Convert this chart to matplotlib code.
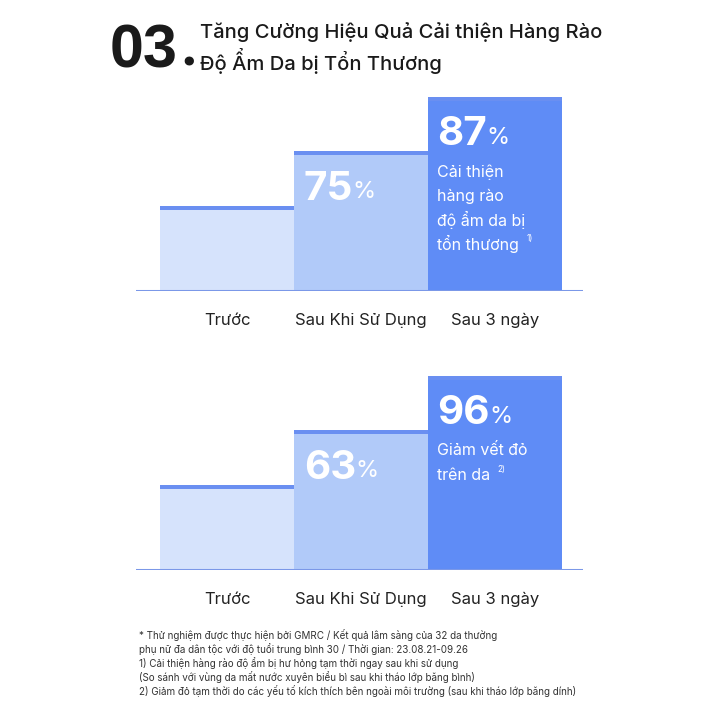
import matplotlib
matplotlib.use("Agg")
import matplotlib.pyplot as plt

plt.rcParams['font.family'] = ['Inter', 'Noto Sans', 'DejaVu Sans']

# Data
categories = ["Trước", "Sau Khi Sử Dụng", "Sau 3 ngày"]
bar_heights = [44, 72, 100]          # relative bar heights
top_values = ["75", "87"]            # value labels on bars 2 and 3 (top chart)
bottom_values = ["63", "96"]         # value labels on bars 2 and 3 (bottom chart)
top_note = ["Cải thiện", "hàng rào", "độ ẩm da bị", "tổn thương"]
top_note_ref = "1)"
bottom_note = ["Giảm vết đỏ", "trên da"]
bottom_note_ref = "2)"

title_num = "03"
title_lines = "Tăng Cường Hiệu Quả Cải thiện Hàng Rào\nĐộ Ẩm Da bị Tổn Thương"
footnotes = [
    "* Thử nghiệm được thực hiện bởi GMRC / Kết quả lâm sàng của 32 da thường",
    "phụ nữ đa dân tộc với độ tuổi trung bình 30 / Thời gian: 23.08.21-09.26",
    "1) Cải thiện hàng rào độ ẩm bị hư hỏng tạm thời ngay sau khi sử dụng",
    "(So sánh với vùng da mất nước xuyên biểu bì sau khi tháo lớp băng bình)",
    "2) Giảm đỏ tạm thời do các yếu tố kích thích bên ngoài môi trường (sau khi tháo lớp băng dính)",
]

fill_colors = ["#d6e3fc", "#b1caf9", "#5f8cf6"]
cap_color = "#6a8ff1"
base_color = "#7b98e8"


def draw_chart(ax, values, note, note_ref):
    x = list(range(len(categories)))
    ax.bar(x, bar_heights, width=1.0, color=fill_colors, edgecolor="none", zorder=1)
    # darker cap on top of each bar
    ax.bar(x, [2.0] * 3, bottom=[h - 2.0 for h in bar_heights], width=1.0,
           color=cap_color, edgecolor="none", zorder=2)
    ax.axhline(0, color=base_color, lw=2.2, zorder=3)

    ax.set_xlim(-0.68, 2.66)
    ax.set_ylim(0, 103.6)
    ax.set_xticks(x)
    ax.set_xticklabels(categories, fontsize=12, color="#222222")
    ax.tick_params(axis="x", length=0, pad=16)
    ax.set_yticks([])
    for s in ax.spines.values():
        s.set_visible(False)

    # value labels
    for i, v in zip([1, 2], values):
        t = ax.annotate(v, xy=(i - 0.5, bar_heights[i]), xytext=(7, -14),
                        textcoords="offset points", ha="left", va="top",
                        fontsize=29, fontweight="bold", color="white", zorder=4)
        ax.annotate("%", xy=(1, 0), xycoords=t, xytext=(-0.5, 3.5),
                    textcoords="offset points", ha="left", va="bottom",
                    fontsize=17, color="white", zorder=4)

    # description, one line at a time so the footnote mark follows the last line
    last = None
    for k, line in enumerate(note):
        last = ax.annotate(line, xy=(1.5, bar_heights[2]), xytext=(7, -54 - 17.3 * k),
                           textcoords="offset points", ha="left", va="center",
                           fontsize=11.5, color="white", zorder=4)
    ax.annotate(note_ref, xy=(1, 0.55), xycoords=last, xytext=(5, 0),
                textcoords="offset points", ha="left", va="bottom",
                fontsize=6, color="white", zorder=4)


fig = plt.figure(figsize=(7.2, 7.2), dpi=100)

ax1 = fig.add_axes([136 / 720, 1 - 291 / 720, 447 / 720, 201 / 720])
draw_chart(ax1, top_values, top_note, top_note_ref)

ax2 = fig.add_axes([136 / 720, 1 - 570 / 720, 447 / 720, 201 / 720])
draw_chart(ax2, bottom_values, bottom_note, bottom_note_ref)

# heading
fig.text(110 / 720, 1 - 67 / 720, title_num, fontsize=44, fontweight="bold",
         family="Liberation Sans", color="#1a1a1a", ha="left", va="baseline")
fig.text(179 / 720, 1 - 65 / 720, ".", fontsize=40, fontweight="bold",
         color="#1a1a1a", ha="left", va="baseline")
fig.text(200 / 720, 1 - 22 / 720, title_lines, fontsize=14.5, fontweight="medium",
         color="#1a1a1a", ha="left", va="top", linespacing=1.3)

# footnotes
for k, line in enumerate(footnotes):
    fig.text(139 / 720, 1 - (635 + 14 * k) / 720, line, fontsize=7.1,
             color="#333333", ha="left", va="center")

fig.savefig("out.png", dpi=100, facecolor="white")
